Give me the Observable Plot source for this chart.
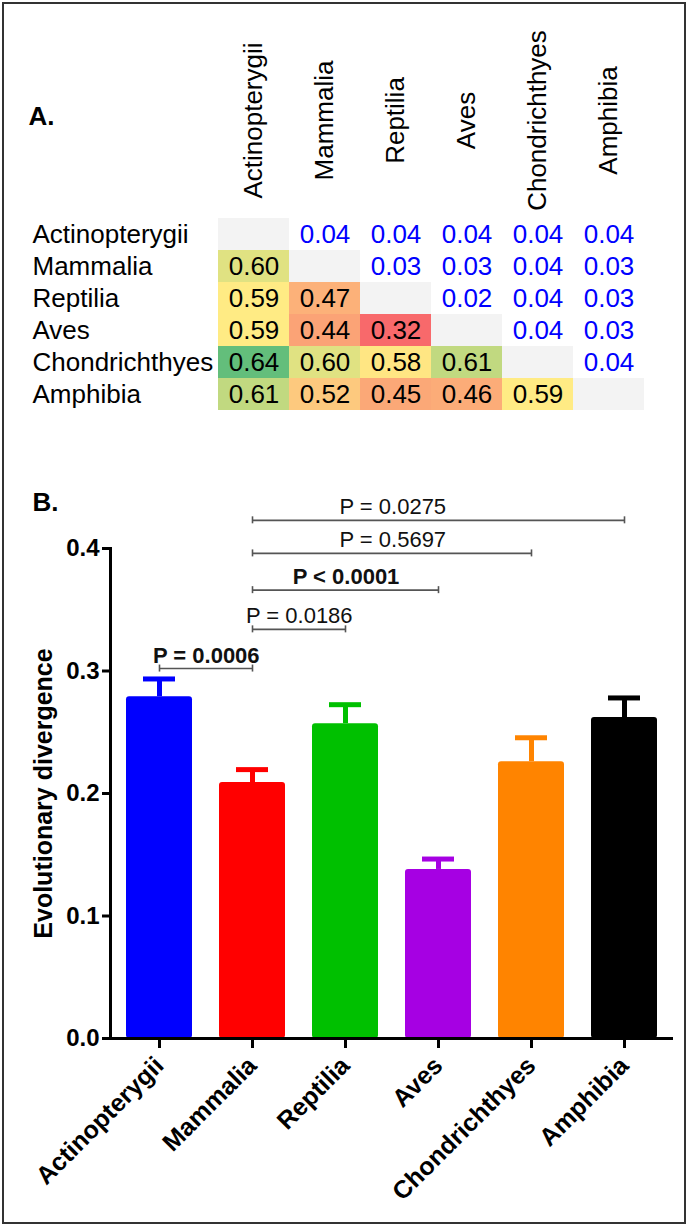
<!DOCTYPE html>
<html>
<head>
<meta charset="utf-8">
<script src="https://cdn.jsdelivr.net/npm/d3@7"></script>
<script src="https://cdn.jsdelivr.net/npm/@observablehq/plot@0.6"></script>
<style>
html, body { margin: 0; padding: 0; background: #fff; }
#fig { position: relative; width: 688px; height: 1227px; overflow: hidden; font-family: "Liberation Sans", Arial, sans-serif; }
#border { position: absolute; left: 2px; top: 2px; width: 684px; height: 1222px; box-sizing: border-box; border: 2px solid #333; pointer-events: none; }
#panelA { position: absolute; left: 0; top: 0; }
#panelB { position: absolute; left: 0; top: 430px; }
svg { overflow: visible; }
</style>
</head>
<body>
<div id="fig"><div id="panelA"></div><div id="panelB"></div><div id="border"></div></div>
<script>
// ---------- data ----------
const classes = ["Actinopterygii", "Mammalia", "Reptilia", "Aves", "Chondrichthyes", "Amphibia"];

// Panel A: lower triangle (row i, columns 0..i-1)
const lowerValues = [
  [],
  [0.60],
  [0.59, 0.47],
  [0.59, 0.44, 0.32],
  [0.64, 0.60, 0.58, 0.61],
  [0.61, 0.52, 0.45, 0.46, 0.59]
];
// Panel A: upper triangle (row i, columns i+1..5)
const upperValues = [
  [0.04, 0.04, 0.04, 0.04, 0.04],
  [0.03, 0.03, 0.04, 0.03],
  [0.02, 0.04, 0.03],
  [0.04, 0.03],
  [0.04],
  []
];
const heatDomain = [0.32, 0.59, 0.64];
const heatColors = ["#F8696B", "#FFEB84", "#63BE7B"];

// Panel B: bars
const barMeans = [0.279, 0.209, 0.257, 0.138, 0.226, 0.262];
const barErrors = [0.0145, 0.0105, 0.0155, 0.0085, 0.0195, 0.016];
const barColors = ["#0000ff", "#ff0000", "#00c000", "#a600e3", "#ff8400", "#000000"];
const yTicks = [0, 0.1, 0.2, 0.3, 0.4];

// Panel B: significance brackets
const bracketFrom = ["Actinopterygii", "Mammalia", "Mammalia", "Mammalia", "Mammalia"];
const bracketTo = ["Mammalia", "Reptilia", "Aves", "Chondrichthyes", "Amphibia"];
const bracketLevel = [0.302, 0.334, 0.366, 0.396, 0.423];
const bracketLabel = ["P = 0.0006", "P = 0.0186", "P < 0.0001", "P = 0.5697", "P = 0.0275"];
const bracketBold = [true, false, true, false, false];
// label sits centred between these two classes
const labelFrom = ["Actinopterygii", "Mammalia", "Mammalia", "Mammalia", "Mammalia"];
const labelTo = ["Mammalia", "Reptilia", "Aves", "Chondrichthyes", "Chondrichthyes"];

// ---------- panel A ----------
const font = "'Liberation Sans', Arial, sans-serif";
const fmt = d3.format(".2f");
const lower = [], upper = [], diag = [];
classes.forEach((r, i) => classes.forEach((c, j) => {
  if (j < i) lower.push({row: r, col: c, value: lowerValues[i][j]});
  else if (j === i) diag.push({row: r, col: c});
  else upper.push({row: r, col: c, value: upperValues[i][j - i - 1]});
}));

const plotA = Plot.plot({
  width: 688, height: 430,
  marginLeft: 217, marginRight: 43, marginTop: 216, marginBottom: 18,
  style: {fontFamily: font, background: "transparent", overflow: "visible"},
  x: {type: "band", domain: classes, padding: 0, axis: null},
  y: {type: "band", domain: classes, padding: 0, axis: null},
  color: {type: "linear", domain: heatDomain, range: heatColors},
  marks: [
    Plot.cell(diag, {x: "col", y: "row", fill: "#f3f3f3"}),
    Plot.cell(lower, {x: "col", y: "row", fill: "value"}),
    Plot.text(lower, {x: "col", y: "row", text: d => fmt(d.value), fill: "#000", fontSize: 26}),
    Plot.text(upper, {x: "col", y: "row", text: d => fmt(d.value), fill: "#0000ff", fontSize: 26}),
    Plot.text(classes, {y: d => d, frameAnchor: "left", textAnchor: "start", lineAnchor: "middle", dx: -185, fill: "#000", fontSize: 26}),
    Plot.text(classes, {x: d => d, frameAnchor: "top", textAnchor: "middle", lineAnchor: "middle", rotate: -90, dy: -96, fill: "#000", fontSize: 26}),
    Plot.text(["A."], {frameAnchor: "top-left", textAnchor: "start", lineAnchor: "middle", dx: -189, dy: -100, fontWeight: "bold", fontSize: 26, fill: "#000"})
  ]
});
document.getElementById("panelA").appendChild(plotA);

// ---------- panel B ----------
const bars = classes.map((c, i) => ({cls: c, mean: barMeans[i], err: barErrors[i]}));
const xOpts = {type: "band", domain: classes, paddingInner: 0.29, paddingOuter: 0.155};
const W = 688, ML = 110, MR = 15;
const xs = Plot.scale({x: {...xOpts, range: [ML, W - MR]}});
const brackets = bracketFrom.map((f, i) => ({
  from: f, to: bracketTo[i], level: bracketLevel[i], label: bracketLabel[i], bold: bracketBold[i],
  lf: labelFrom[i], lt: labelTo[i]
}));
const ends = brackets.flatMap(b => [{cls: b.from, level: b.level}, {cls: b.to, level: b.level}]);

const plotB = Plot.plot({
  width: W, height: 797,
  marginLeft: ML, marginRight: MR, marginTop: 118, marginBottom: 189,
  style: {fontFamily: font, background: "transparent", overflow: "visible"},
  x: {...xOpts, axis: null},
  y: {domain: [0, 0.4], axis: null},
  color: {domain: classes, range: barColors},
  marks: [
    Plot.ruleX(bars, {x: "cls", y1: "mean", y2: d => d.mean + d.err, stroke: "cls", strokeWidth: 5}),
    Plot.tickY(bars, {x: "cls", y: d => d.mean + d.err, stroke: "cls", strokeWidth: 5, insetLeft: 17, insetRight: 17}),
    Plot.barY(bars, {x: "cls", y: "mean", fill: "cls", rx: 3}),
    Plot.frame({anchor: "left", stroke: "#000", strokeWidth: 3}),
    Plot.ruleY([0], {stroke: "#000", strokeWidth: 3}),
    Plot.axisY({ticks: yTicks, tickFormat: ".1f", tickSize: 8, tickPadding: 3, stroke: "#000", strokeWidth: 3, fontSize: 24, fontWeight: "bold", fill: "#000", label: null}),
    Plot.axisX({tickSize: 10, tickPadding: 13, tickRotate: -45, stroke: "#000", strokeWidth: 3, fontSize: 25, fontWeight: "bold", fill: "#000", label: null}),
    Plot.text(["Evolutionary divergence"], {frameAnchor: "left", textAnchor: "middle", lineAnchor: "middle", rotate: -90, dx: -67, fontSize: 25, fontWeight: "bold", fill: "#000"}),
    Plot.link(brackets, {x1: "from", x2: "to", y1: "level", y2: "level", stroke: "#555", strokeWidth: 1.6}),
    Plot.ruleX(ends, {x: "cls", y1: "level", y2: "level", insetTop: -3.5, insetBottom: -3.5, stroke: "#555", strokeWidth: 1.6}),
    ...brackets.map(b => Plot.text([b], {
      x: "lf", y: "level", text: "label",
      dx: (xs.apply(b.lt) - xs.apply(b.lf)) / 2, dy: -6,
      lineAnchor: "bottom", fontSize: 22, fontWeight: b.bold ? "bold" : "normal", fill: "#111"
    })),
    Plot.text(["B."], {frameAnchor: "top-left", textAnchor: "start", lineAnchor: "middle", dx: -78, dy: -46, fontWeight: "bold", fontSize: 26, fill: "#000"})
  ]
});
document.getElementById("panelB").appendChild(plotB);
</script>
</body>
</html>
